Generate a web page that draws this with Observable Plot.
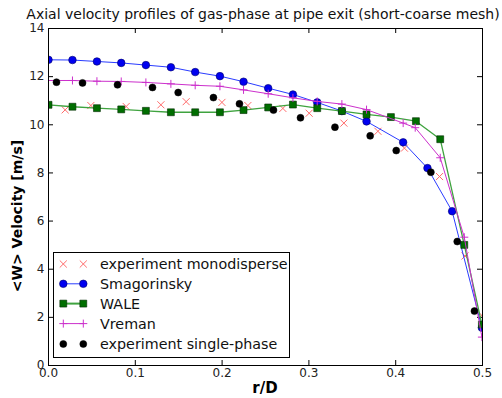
<!DOCTYPE html>
<html><head><meta charset="utf-8">
<script src="https://cdn.jsdelivr.net/npm/d3@7"></script>
<script src="https://cdn.jsdelivr.net/npm/@observablehq/plot@0.6"></script>
<style>
body{margin:0;background:#fff;}
#wrap{position:relative;width:502px;height:398px;}
</style></head><body><div id="wrap"></div>
<script>
const titleText = "Axial velocity profiles of gas-phase at pipe exit (short-coarse mesh)";
const xLabel = "r/D";
const yLabel = "<W> Velocity [m/s]";
const xTicks = [0, 0.1, 0.2, 0.3, 0.4, 0.5];
const yTicks = [0, 2, 4, 6, 8, 10, 12, 14];

const seriesNames = ["experiment monodisperse", "Smagorinsky", "WALE", "Vreman", "experiment single-phase"];

const monoR = [0.0192, 0.0488, 0.0895, 0.1295, 0.1586, 0.1998, 0.2297, 0.27, 0.3003, 0.3403, 0.3795, 0.41, 0.4505, 0.4799, 0.4993];
const monoW = [10.62, 10.80, 10.76, 10.83, 10.96, 10.93, 10.80, 10.68, 10.48, 10.07, 9.73, 9.03, 7.85, 4.55, 2.08];

const smagR = [0, 0.0276, 0.0558, 0.0838, 0.1122, 0.141, 0.169, 0.1975, 0.2247, 0.2531, 0.2816, 0.3096, 0.338, 0.3664, 0.4086, 0.4366, 0.465, 0.4993];
const smagW = [12.70, 12.69, 12.63, 12.57, 12.48, 12.39, 12.19, 12.02, 11.79, 11.52, 11.26, 10.93, 10.57, 10.14, 9.27, 8.20, 6.41, 1.57];

const waleR = [0, 0.0276, 0.0558, 0.0838, 0.1122, 0.141, 0.169, 0.1975, 0.2247, 0.2531, 0.2816, 0.3096, 0.338, 0.3664, 0.3945, 0.4233, 0.4513, 0.479, 0.4993];
const waleW = [10.83, 10.75, 10.69, 10.64, 10.58, 10.52, 10.52, 10.52, 10.61, 10.72, 10.84, 10.69, 10.57, 10.43, 10.32, 10.15, 9.40, 5.01, 1.70];

const vremR = [0, 0.0276, 0.0558, 0.0838, 0.1122, 0.141, 0.169, 0.1975, 0.2247, 0.2531, 0.2816, 0.3096, 0.338, 0.3664, 0.4086, 0.4225, 0.4513, 0.479, 0.4993];
const vremW = [11.84, 11.84, 11.81, 11.80, 11.76, 11.70, 11.64, 11.60, 11.45, 11.29, 11.12, 10.97, 10.86, 10.63, 10.07, 9.88, 8.63, 5.33, 1.18];

const singleR = [0.0092, 0.0392, 0.0795, 0.1198, 0.1494, 0.19, 0.22, 0.2592, 0.2903, 0.33, 0.3706, 0.4006, 0.4405, 0.4709, 0.4907];
const singleW = [11.77, 11.74, 11.66, 11.55, 11.34, 11.13, 10.87, 10.61, 10.29, 9.90, 9.54, 8.93, 8.03, 5.15, 2.26];

const zip = (R, W) => R.map((r, i) => ({r, w: W[i]}));
const mono = zip(monoR, monoW), smag = zip(smagR, smagW), wale = zip(waleR, waleW), vrem = zip(vremR, vremW), single = zip(singleR, singleW);

const W = 502, H = 398, mL = 48, mR = 20, mT = 28, mB = 33;
const fw = W - mL - mR, fh = H - mT - mB, tk = 5;

const styles = {
  mono: {symbol: "times", r: 3.3, stroke: "#ff6b6b", fill: "none", sw: 1},
  smag: {line: "#2a3cff", lw: 1, symbol: "circle", r: 3.8, fill: "#0000f0", stroke: "#00006a", sw: 0.6},
  wale: {line: "#3fa33f", lw: 1.3, symbol: "square", r: 3.9, fill: "#006e00", stroke: "#002a00", sw: 0.6},
  vrem: {line: "#cc30cc", lw: 1, symbol: "plus", r: 2.7, stroke: "#cc30cc", fill: "none", sw: 1},
  single: {symbol: "circle", r: 3.5, fill: "#000", stroke: "#000", sw: 0.5}
};

const xy = {x: "r", y: "w", clip: true};
const chart = Plot.plot({
  width: W, height: H,
  marginLeft: mL, marginRight: mR, marginTop: mT, marginBottom: mB,
  style: {fontFamily: "DejaVu Sans", fontSize: "12px", color: "#222", background: "#fff", overflow: "visible"},
  x: {domain: [0, 0.5]},
  y: {domain: [0, 14]},
  marks: [
    Plot.axisX(xTicks, {tickSize: 0, tickPadding: 3, tickFormat: d3.format(".1f"), label: null}),
    Plot.axisY(yTicks, {tickSize: 0, tickPadding: 4, tickFormat: d3.format("d"), label: null}),
    Plot.ruleX(xTicks, {x: d => d, insetTop: fh - tk, stroke: "#000"}),
    Plot.ruleX(xTicks, {x: d => d, insetBottom: fh - tk, stroke: "#000"}),
    Plot.ruleY(yTicks, {y: d => d, insetRight: fw - tk, stroke: "#000"}),
    Plot.ruleY(yTicks, {y: d => d, insetLeft: fw - tk, stroke: "#000"}),
    Plot.dot(mono, {...xy, symbol: "times", r: styles.mono.r, stroke: styles.mono.stroke, strokeWidth: 1}),
    Plot.line(smag, {...xy, stroke: styles.smag.line, strokeWidth: styles.smag.lw}),
    Plot.dot(smag, {...xy, symbol: "circle", r: styles.smag.r, fill: styles.smag.fill, stroke: styles.smag.stroke, strokeWidth: 0.6}),
    Plot.line(wale, {...xy, stroke: styles.wale.line, strokeWidth: styles.wale.lw}),
    Plot.dot(wale, {...xy, symbol: "square", r: styles.wale.r, fill: styles.wale.fill, stroke: styles.wale.stroke, strokeWidth: 0.6}),
    Plot.line(vrem, {...xy, stroke: styles.vrem.line, strokeWidth: styles.vrem.lw}),
    Plot.dot(vrem, {...xy, symbol: "plus", r: styles.vrem.r, stroke: styles.vrem.stroke, strokeWidth: 1}),
    Plot.dot(single, {...xy, symbol: "circle", r: styles.single.r, fill: "#000", stroke: "#000", strokeWidth: 0.5}),
    Plot.frame({stroke: "#000", strokeWidth: 1})
  ]
});
document.getElementById("wrap").appendChild(chart);

const svg = d3.select(chart);
svg.append("text").attr("x", mL + fw / 2 - 2).attr("y", 19).attr("text-anchor", "middle")
  .style("font-family", "DejaVu Sans").style("font-size", "14px").attr("fill", "#111").text(titleText);
svg.append("text").attr("x", mL + fw / 2).attr("y", 393).attr("text-anchor", "middle")
  .style("font-family", "DejaVu Sans").style("font-size", "15px").style("font-weight", "bold").attr("fill", "#000").text(xLabel);
svg.append("text").attr("transform", `translate(22,216) rotate(-90)`).attr("text-anchor", "middle")
  .style("font-family", "DejaVu Sans").style("font-size", "14px").style("font-weight", "bold").attr("fill", "#000").text(yLabel);

// legend
const lg = svg.append("g");
lg.append("rect").attr("x", 53.5).attr("y", 252.5).attr("width", 236).attr("height", 105)
  .attr("fill", "#fff").attr("stroke", "#000").attr("stroke-width", 1);
const rows = [264, 283.8, 303.6, 323.6, 344];
const symMap = {circle: d3.symbolCircle, square: d3.symbolSquare, plus: d3.symbolPlus, times: d3.symbolTimes};
const keys = ["mono", "smag", "wale", "vrem", "single"];
keys.forEach((k, i) => {
  const s = styles[k], y = rows[i];
  if (s.line) lg.append("line").attr("x1", 63.3).attr("x2", 83.3).attr("y1", y).attr("y2", y)
    .attr("stroke", s.line).attr("stroke-width", k === "wale" ? 2 : s.lw);
  [63.3, 83.3].forEach(x => {
    lg.append("path").attr("d", d3.symbol(symMap[s.symbol], Math.PI * s.r * s.r)())
      .attr("transform", `translate(${x},${y})`)
      .attr("fill", s.fill).attr("stroke", s.stroke).attr("stroke-width", s.sw);
  });
  lg.append("text").attr("x", 100).attr("y", y).attr("dy", "0.35em").attr("text-anchor", "start")
    .style("font-family", "DejaVu Sans").style("font-size", "14.3px").attr("fill", "#111").text(seriesNames[i]);
});
</script>
</body></html>
